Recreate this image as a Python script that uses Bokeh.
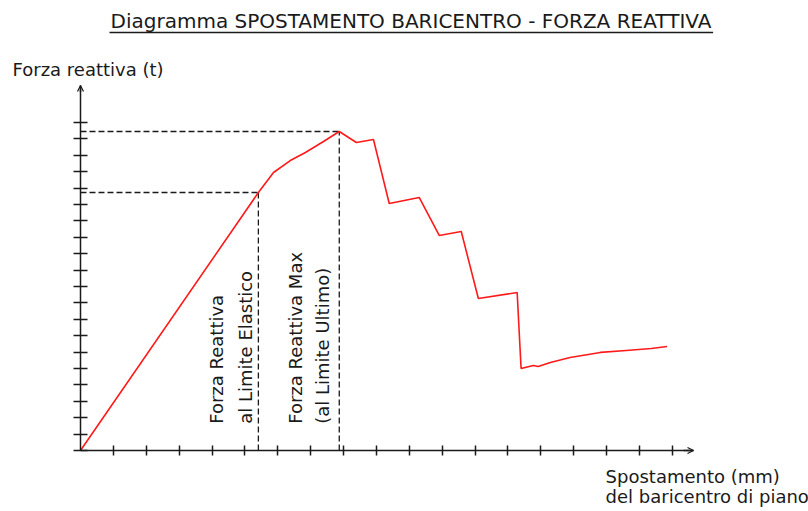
from bokeh.plotting import figure
from bokeh.models import (Range1d, FixedTicker, CustomJSTickFormatter, Label, Arrow,
                          OpenHead, ColumnDataSource)
from bokeh.embed import file_html
from bokeh.resources import INLINE
import math

# ---- data (units: one axis tick) ----
spostamento = [0, 5.41, 5.87, 6.38, 6.84, 7.39, 7.87, 8.39, 8.91, 9.39, 10.30, 10.91,
               11.58, 12.10, 13.28, 13.40, 13.77, 13.92, 14.29, 14.89, 15.81, 16.60,
               17.36, 17.84]
forza = [0, 15.73, 16.95, 17.68, 18.17, 18.84, 19.45, 18.78, 18.96, 15.06, 15.43, 13.11,
         13.35, 9.27, 9.63, 5.00, 5.18, 5.12, 5.37, 5.67, 5.98, 6.10, 6.22, 6.34]
idx_elastico = 1
idx_max = 6
x_ticks = list(range(1, 19))
y_ticks = list(range(0, 21))
x_axis_end = 18.644
y_axis_end = 22.256

title_text = "Diagramma SPOSTAMENTO BARICENTRO - FORZA REATTIVA"
y_label = "Forza reattiva (t)"
x_label_1 = "Spostamento (mm)"
x_label_2 = "del baricentro di piano"
lbl_el_1 = "Forza Reattiva"
lbl_el_2 = "al Limite Elastico"
lbl_max_1 = "Forza Reattiva Max"
lbl_max_2 = "(al Limite Ultimo)"

FONT = "DejaVu Sans"
INK = "#1a1a1a"

p = figure(width=808, height=511, output_backend="svg", toolbar_location=None,
           x_range=Range1d(-2.433, 22.141), y_range=Range1d(-3.720, 27.439),
           min_border=0)
p.outline_line_color = None
p.grid.visible = False
p.background_fill_color = "white"
p.border_fill_color = "white"

blank = CustomJSTickFormatter(code="return ''")
for ax, ticks, tick_len, end in ((p.xaxis[0], x_ticks, 5, x_axis_end),
                                  (p.yaxis[0], y_ticks, 7, y_axis_end)):
    ax.fixed_location = 0
    ax.bounds = (0, end)
    ax.ticker = FixedTicker(ticks=ticks)
    ax.formatter = blank
    ax.minor_tick_line_color = None
    ax.major_tick_in = tick_len
    ax.major_tick_out = tick_len
    ax.axis_line_color = INK
    ax.major_tick_line_color = INK
    ax.axis_line_width = 1.5
    ax.major_tick_line_width = 1.5
    ax.major_label_standoff = 0

# axis arrowheads
p.add_layout(Arrow(end=OpenHead(size=6, line_color=INK, line_width=1.2),
                   x_start=x_axis_end - 0.3, y_start=0, x_end=x_axis_end, y_end=0,
                   line_color=INK, line_width=1.5))
p.add_layout(Arrow(end=OpenHead(size=6, line_color=INK, line_width=1.2),
                   x_start=0, y_start=y_axis_end - 0.4, x_end=0, y_end=y_axis_end,
                   line_color=INK, line_width=1.5))

# dashed reference lines
xe, ye = spostamento[idx_elastico], forza[idx_elastico]
xm, ym = spostamento[idx_max], forza[idx_max]
ref = ColumnDataSource(dict(x0=[0, xe, 0, xm], y0=[ye, 0, ym, 0],
                            x1=[xe, xe, xm, xm], y1=[ye, ye, ym, ym]))
p.segment("x0", "y0", "x1", "y1", source=ref, line_color=INK, line_width=1.3,
          line_dash="6 3")

# curve
p.line(spostamento, forza, line_color="#ff1a1a", line_width=1.6)

# texts
p.add_layout(Label(x=10.05, y=26.16, text=title_text, text_font=FONT,
                   text_font_size="20px", text_align="center",
                   text_baseline="alphabetic", text_color=INK))
p.add_layout(Arrow(end=None, x_start=0.882, y_start=25.49, x_end=19.24, y_end=25.49,
                   line_color=INK, line_width=1.5))
p.add_layout(Label(x=-2.068, y=23.23, text=y_label, text_font=FONT,
                   text_font_size="18px", text_baseline="alphabetic", text_color=INK))
p.add_layout(Label(x=15.97, y=-1.58, text=x_label_1, text_font=FONT,
                   text_font_size="18px", text_baseline="alphabetic", text_color=INK))
p.add_layout(Label(x=15.97, y=-2.80, text=x_label_2, text_font=FONT,
                   text_font_size="18px", text_baseline="alphabetic", text_color=INK))
for xx, t in ((4.145, lbl_el_1), (5.009, lbl_el_2), (6.530, lbl_max_1), (7.375, lbl_max_2)):
    p.add_layout(Label(x=xx, y=1.628, text=t, angle=math.pi / 2, text_font=FONT,
                       text_font_size="18px", text_align="left",
                       text_baseline="alphabetic", text_color=INK))

open("out.html", "w").write(file_html(p, INLINE))
